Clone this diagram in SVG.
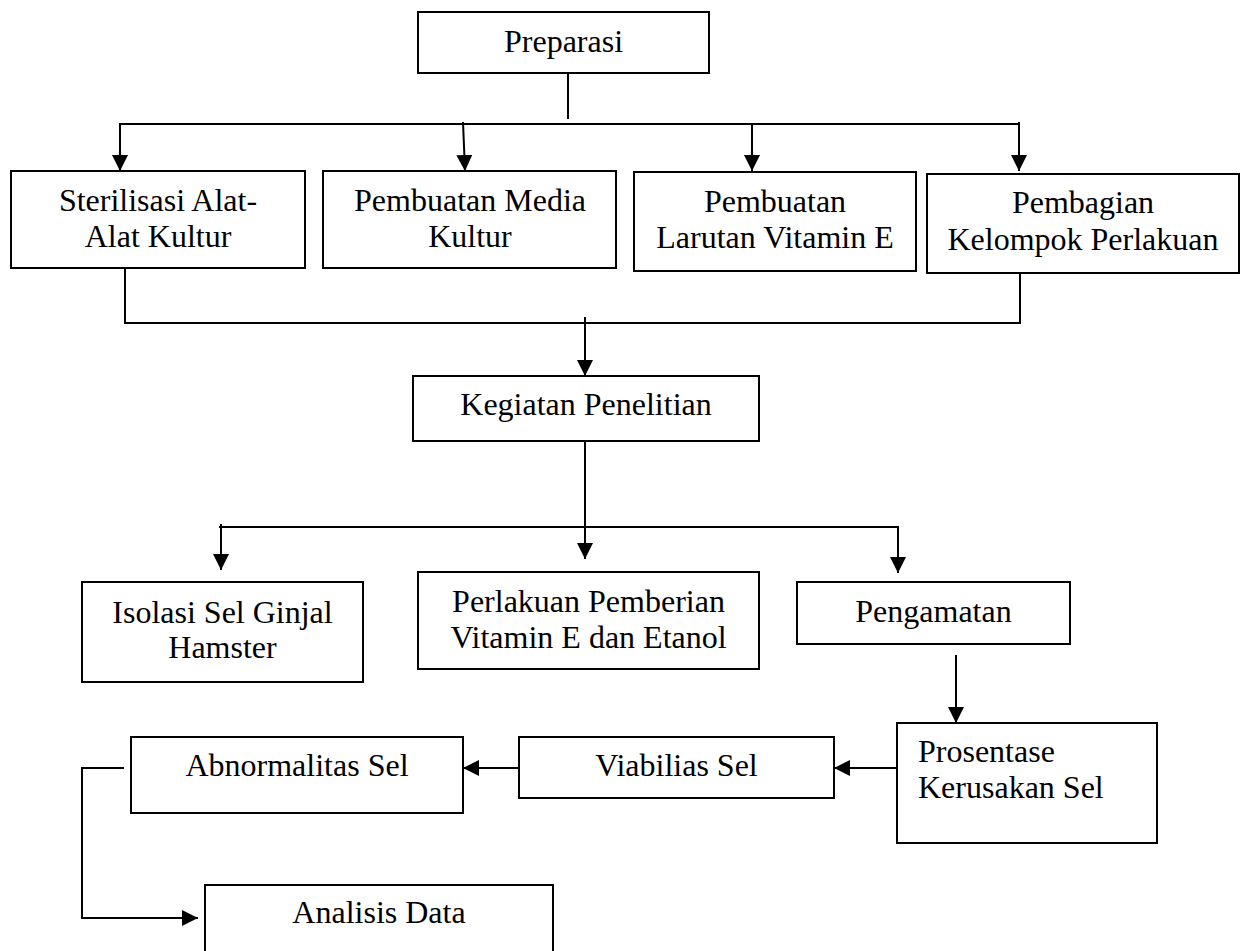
<svg xmlns="http://www.w3.org/2000/svg" width="1240" height="951" viewBox="0 0 1240 951">
<style>
.box{fill:#fff;stroke:#000;stroke-width:2}
.t{font-family:"Liberation Serif","Times New Roman",serif;font-size:32px;fill:#000;text-anchor:middle}
.tl{font-family:"Liberation Serif","Times New Roman",serif;font-size:32px;fill:#000;text-anchor:start}
.c{fill:none;stroke:#000;stroke-width:2}
</style>
<defs>
<marker id="ah" markerUnits="userSpaceOnUse" markerWidth="17" markerHeight="16" refX="16" refY="8" orient="auto" viewBox="0 0 17 16">
<path d="M0,0 L16,8 L0,16 z" fill="#000"/>
</marker>
</defs>
<rect width="1240" height="951" fill="#fff"/>
<g id="connectors">
<line class="c" x1="568" y1="73" x2="568" y2="119"/>
<line class="c" x1="119" y1="124" x2="1020" y2="124"/>
<line class="c" x1="120" y1="124" x2="120" y2="171" marker-end="url(#ah)"/>
<line class="c" x1="463" y1="122" x2="465" y2="171" marker-end="url(#ah)"/>
<line class="c" x1="752" y1="124" x2="752" y2="171" marker-end="url(#ah)"/>
<line class="c" x1="1019" y1="122" x2="1019" y2="171" marker-end="url(#ah)"/>
<polyline class="c" points="125,268 125,323 1020,323 1020,273"/>
<line class="c" x1="585" y1="317" x2="585" y2="376" marker-end="url(#ah)"/>
<line class="c" x1="585" y1="441" x2="585" y2="559" marker-end="url(#ah)"/>
<line class="c" x1="219" y1="527" x2="899" y2="527"/>
<line class="c" x1="221" y1="524" x2="221" y2="570" marker-end="url(#ah)"/>
<line class="c" x1="898" y1="527" x2="898" y2="573" marker-end="url(#ah)"/>
<line class="c" x1="956" y1="655" x2="956" y2="723" marker-end="url(#ah)"/>
<line class="c" x1="897" y1="768" x2="834" y2="768" marker-end="url(#ah)"/>
<line class="c" x1="519" y1="768" x2="463" y2="768" marker-end="url(#ah)"/>
<polyline class="c" points="124,768 82,768 82,918 198,918" marker-end="url(#ah)"/>
</g>
<g id="preparasi"><rect class="box" x="418" y="12" width="291" height="61"/><text class="t" x="563.5" y="52">Preparasi</text></g>
<g id="sterilisasi"><rect class="box" x="11" y="171" width="294" height="97"/><text class="t" x="158" y="211">Sterilisasi Alat-</text><text class="t" x="158" y="247">Alat Kultur</text></g>
<g id="media"><rect class="box" x="323" y="171" width="293" height="97"/><text class="t" x="470" y="211">Pembuatan Media</text><text class="t" x="470" y="247">Kultur</text></g>
<g id="larutan"><rect class="box" x="634" y="172" width="282" height="99"/><text class="t" x="775" y="212">Pembuatan</text><text class="t" x="775" y="248">Larutan Vitamin E</text></g>
<g id="pembagian"><rect class="box" x="927" y="174" width="312" height="99"/><text class="t" x="1083" y="213">Pembagian</text><text class="t" x="1083" y="250">Kelompok Perlakuan</text></g>
<g id="kegiatan"><rect class="box" x="413" y="376" width="346" height="65"/><text class="t" x="586" y="415">Kegiatan Penelitian</text></g>
<g id="isolasi"><rect class="box" x="82" y="582" width="281" height="100"/><text class="t" x="222.5" y="623">Isolasi Sel Ginjal</text><text class="t" x="222.5" y="658">Hamster</text></g>
<g id="perlakuan"><rect class="box" x="418" y="572" width="341" height="97"/><text class="t" x="588.5" y="612">Perlakuan Pemberian</text><text class="t" x="588.5" y="648">Vitamin E dan Etanol</text></g>
<g id="pengamatan"><rect class="box" x="797" y="582" width="273" height="62"/><text class="t" x="933.5" y="622">Pengamatan</text></g>
<g id="prosentase"><rect class="box" x="897" y="723" width="260" height="120"/><text class="tl" x="918" y="762">Prosentase</text><text class="tl" x="918" y="798">Kerusakan Sel</text></g>
<g id="abnormalitas"><rect class="box" x="131" y="737" width="332" height="76"/><text class="t" x="297" y="776">Abnormalitas Sel</text></g>
<g id="viabilias"><rect class="box" x="519" y="737" width="315" height="61"/><text class="t" x="676.5" y="776">Viabilias Sel</text></g>
<g id="analisis"><rect class="box" x="205" y="885" width="348" height="80"/><text class="t" x="379" y="923">Analisis Data</text></g>
</svg>
